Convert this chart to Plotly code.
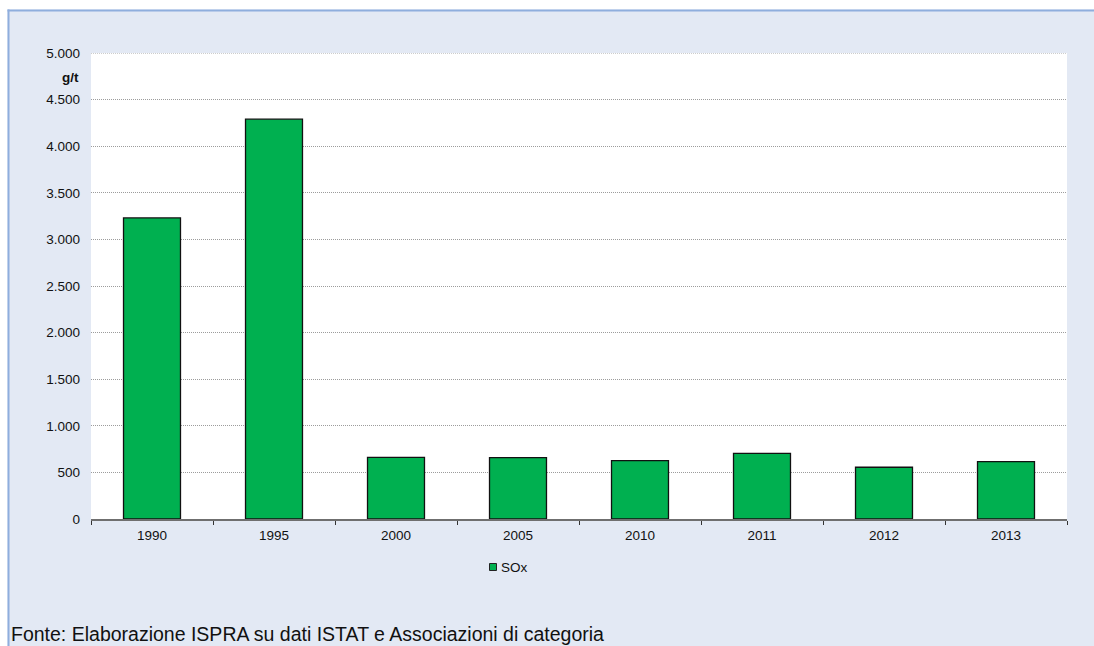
import plotly.graph_objects as go

# Emission factor of SOx per year (g/t)
years = ["1990", "1995", "2000", "2005", "2010", "2011", "2012", "2013"]
sox = [3230, 4290, 662, 658, 626, 705, 555, 615]
y_ticks = [0, 500, 1000, 1500, 2000, 2500, 3000, 3500, 4000, 4500, 5000]
series_name = "SOx"

W, H = 1094, 646
L, R, T, B = 91, 27, 53, 127
PW, PH = W - L - R, H - T - B

BG = "#E3E9F4"
EDGE = "#8FAEDD"
GREEN = "#00B050"
GRID = "#9C9C9C"
FONT = "Liberation Sans, Arial, sans-serif"
FS = 13.5


def px(xp):
    return (xp - L) / PW


def py(yp):
    return (H - B - yp) / PH


fig = go.Figure()
fig.add_trace(go.Bar(
    x=years, y=sox, name=series_name,
    marker=dict(color=GREEN, line=dict(color="#111111", width=1.3)),
    showlegend=False, hoverinfo="x+y",
))

shapes = [
    # white strips outside the framed panel
    dict(type="rect", xref="paper", yref="paper", x0=px(0), x1=px(W),
         y0=py(9.5), y1=py(0), fillcolor="white", line_width=0, layer="below"),
    dict(type="rect", xref="paper", yref="paper", x0=px(0), x1=px(7.5),
         y0=py(H), y1=py(0), fillcolor="white", line_width=0, layer="below"),
    # frame edges
    dict(type="line", xref="paper", yref="paper", x0=px(7.5), x1=px(W),
         y0=py(10.5), y1=py(10.5), line=dict(color=EDGE, width=2), layer="below"),
    dict(type="line", xref="paper", yref="paper", x0=px(8.5), x1=px(8.5),
         y0=py(H), y1=py(9.5), line=dict(color=EDGE, width=2), layer="below"),
    # top gridline at the upper range limit
    dict(type="line", xref="paper", yref="y", x0=0, x1=1, y0=y_ticks[-1], y1=y_ticks[-1],
         line=dict(color=GRID, width=1, dash="1px,1px"), layer="below"),
    # legend key
    dict(type="rect", xref="paper", yref="paper", x0=px(489.5), x1=px(496.5),
         y0=py(570.5), y1=py(563.5), fillcolor=GREEN,
         line=dict(color="#222222", width=1)),
]

fig.update_layout(
    width=W, height=H,
    margin=dict(l=L, r=R, t=T, b=B, pad=0),
    paper_bgcolor=BG, plot_bgcolor="white",
    separators=",.",
    font=dict(family=FONT, size=FS, color="#111111"),
    bargap=0.533,
    shapes=shapes,
    showlegend=False,
    annotations=[
        dict(text=series_name, xref="paper", yref="paper", x=px(498.5), y=py(567),
             xanchor="left", yanchor="middle", showarrow=False,
             font=dict(size=FS, family=FONT)),
        dict(text="<b>g/t</b>", xref="paper", yref="paper", x=px(81), y=py(78),
             xanchor="right", yanchor="middle", showarrow=False,
             font=dict(size=FS, family=FONT)),
        dict(text="Fonte: Elaborazione ISPRA su dati ISTAT e Associazioni di categoria",
             xref="paper", yref="paper", x=px(9), y=py(634),
             xanchor="left", yanchor="middle", showarrow=False,
             font=dict(size=19.5, family=FONT, color="#111111")),
    ],
)

fig.update_xaxes(
    type="category", tickson="boundaries", ticks="outside", ticklen=4,
    tickcolor="#333333", tickwidth=1,
    showline=True, linecolor="#6F6F6F", linewidth=1.5,
    showgrid=False, tickfont=dict(size=FS), ticklabelstandoff=3, fixedrange=True,
)
fig.update_yaxes(
    range=[0, 5000], tickvals=y_ticks, tickformat=",d",
    showgrid=True, gridcolor=GRID, gridwidth=1, griddash="1px,1px",
    zeroline=False, showline=False, ticks="", ticklabelstandoff=10,
    tickfont=dict(size=FS), fixedrange=True,
)

fig.write_html("out.html")
